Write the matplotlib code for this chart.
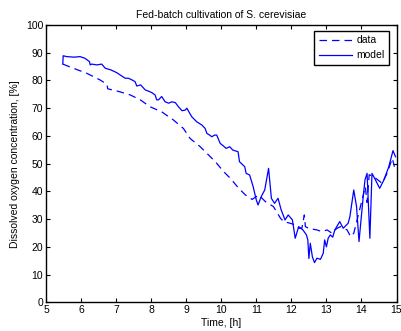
import matplotlib
matplotlib.use('Agg')
import matplotlib.pyplot as plt

plt.rcParams['font.family'] = ['Liberation Sans', 'DejaVu Sans']
plt.rcParams['font.size'] = 7.5

# model curve
t_model = [5.48, 5.49, 5.59, 5.80, 5.97, 6.11, 6.24, 6.26, 6.30, 6.45, 6.59, 6.69, 6.85, 7.02,
           7.16, 7.26, 7.35, 7.45, 7.54, 7.59, 7.70, 7.83, 7.95, 8.02, 8.11, 8.16, 8.21, 8.30,
           8.40, 8.50, 8.59, 8.69, 8.78, 8.88, 8.97, 9.02, 9.09, 9.16, 9.30, 9.45, 9.54, 9.59,
           9.67, 9.73, 9.81, 9.87, 9.97, 10.05, 10.14, 10.24, 10.33, 10.48, 10.52, 10.67,
           10.71, 10.81, 10.91, 11.00, 11.05, 11.14, 11.24, 11.35, 11.43, 11.52, 11.62, 11.71,
           11.82, 11.91, 12.03, 12.11, 12.21, 12.33, 12.43, 12.47, 12.50, 12.54, 12.60, 12.66,
           12.73, 12.83, 12.91, 12.95, 13.00, 13.05, 13.11, 13.18, 13.24, 13.38, 13.48, 13.62,
           13.67, 13.78, 13.86, 13.93, 14.05, 14.10, 14.16, 14.24, 14.30, 14.40, 14.52, 14.64,
           14.78, 14.90, 14.97]
y_model = [85.9, 88.9, 88.6, 88.4, 88.6, 88.0, 86.8, 85.6, 85.9, 85.6, 85.9, 84.4, 83.8, 82.8,
           81.6, 80.8, 80.8, 80.2, 79.6, 78.0, 78.4, 76.6, 76.0, 75.6, 74.8, 73.0, 73.0, 74.2,
           72.3, 71.8, 72.3, 72.0, 70.5, 69.1, 69.3, 70.0, 68.4, 66.9, 65.1, 63.9, 62.7, 60.9,
           60.3, 59.7, 60.3, 60.3, 57.3, 56.5, 55.5, 56.1, 54.9, 54.3, 50.7, 48.9,
           46.5, 45.9, 41.7, 36.9, 35.1, 38.1, 40.5, 48.3, 37.5, 35.7, 37.5, 33.3,
           29.7, 31.5, 29.7, 23.1, 27.3, 26.1, 24.3, 22.5, 15.8, 21.3, 16.4, 14.3,
           15.9, 15.5, 17.7, 22.5, 20.0, 23.1, 24.3, 23.5, 26.1, 29.1, 26.7, 28.5,
           30.9, 40.5, 34.5, 21.9, 38.1, 44.1, 46.5, 23.1, 46.5, 44.1, 41.1, 44.1,
           48.9, 54.7, 52.5]

# measured data
t_data = [5.48, 5.78, 6.16, 6.54, 6.74, 6.76, 7.11, 7.40, 7.69, 7.97, 8.30, 8.64, 8.92, 9.11,
          9.40, 9.64, 9.83, 10.07, 10.26, 10.50, 10.69, 10.88, 11.07, 11.26, 11.49, 11.69,
          11.78, 11.97, 12.11, 12.21, 12.30, 12.37, 12.40, 12.52, 12.64, 12.73, 12.87, 13.02,
          13.16, 13.28, 13.40, 13.59, 13.69, 13.78, 13.97, 14.11, 14.16, 14.22, 14.35, 14.59,
          14.73, 14.88, 14.94]
y_data = [85.9, 84.4, 82.6, 80.2, 78.6, 77.0, 75.9, 74.8, 73.0, 70.5, 68.7, 65.7, 62.7, 59.1,
          56.1, 53.1, 50.7, 47.1, 44.7, 41.1, 38.7, 37.1, 38.7, 36.3, 34.5, 30.3,
          29.1, 28.5, 27.9, 26.7, 26.7, 31.5, 27.3, 26.5, 26.3, 26.1, 25.5, 26.1,
          24.9, 26.5, 27.3, 26.1, 23.7, 24.9, 34.5, 41.7, 36.0, 46.0, 45.3, 42.9,
          46.5, 51.9, 48.9]

fig = plt.figure(figsize=(4.01, 3.31), dpi=100)
ax = fig.add_axes([0.1147, 0.0867, 0.8741, 0.8378])

ax.plot(t_data, y_data, color='b', lw=0.9, linestyle=(0, (6, 4)), label='data')
ax.plot(t_model, y_model, color='b', lw=0.9, label='model')

ax.set_xlim(5, 15)
ax.set_ylim(0, 100)
ax.set_xticks(range(5, 16))
ax.set_yticks(range(0, 101, 10))
ax.tick_params(direction='in', length=3, width=0.8, top=True, right=True, pad=2)
for s in ax.spines.values():
    s.set_linewidth(1.0)

ax.set_title('Fed-batch cultivation of S. cerevisiae', fontsize=7.5, pad=5)
ax.set_xlabel('Time, [h]', labelpad=2)
ax.set_ylabel('Dissolved oxygen concentration, [%]', labelpad=4)

leg = ax.legend(loc='upper right', bbox_to_anchor=(0.98, 0.98), borderaxespad=0,
                fancybox=False, edgecolor='k', framealpha=1, handlelength=3.2,
                handletextpad=0.4, labelspacing=0.5, borderpad=0.45)
leg.get_frame().set_linewidth(1.0)

fig.savefig('out.png', dpi=100)
